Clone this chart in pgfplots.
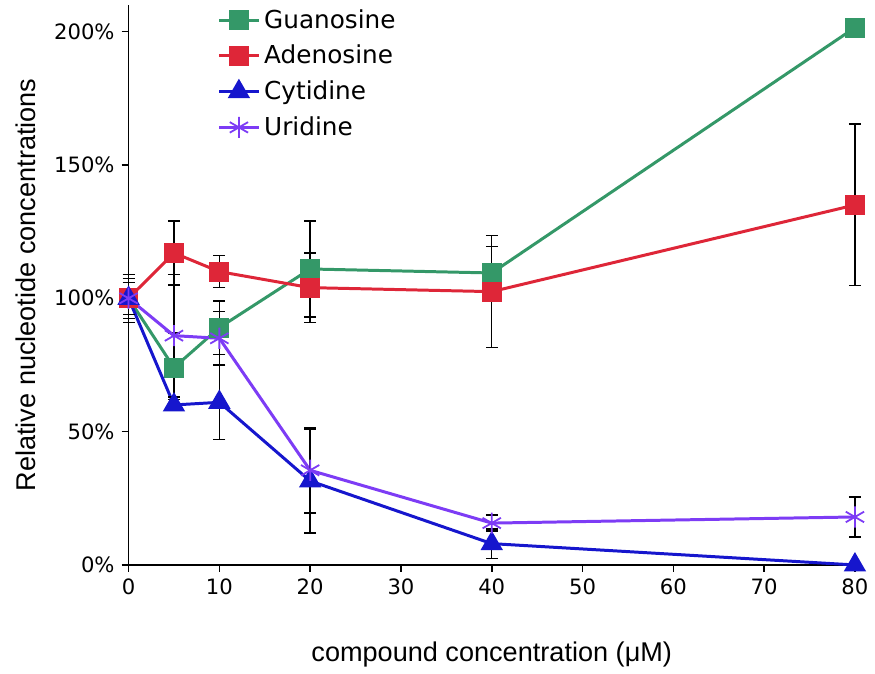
\documentclass[border=0pt]{standalone}
\usepackage{fontspec}
\setmainfont{DejaVu Sans}
\newfontfamily\labfont{Liberation Sans}
\usepackage{pgfplots}
\pgfplotsset{compat=1.18}

\definecolor{guaC}{RGB}{52,152,104}
\definecolor{adeC}{RGB}{222,38,56}
\definecolor{cytC}{RGB}{22,22,205}
\definecolor{uriC}{RGB}{125,60,245}

\begin{document}
\begin{tikzpicture}
\begin{axis}[
    scale only axis,
    width=364.5pt, height=281pt,
    xmin=0, xmax=80, ymin=0, ymax=210,
    axis lines*=left,
    axis line style={line width=0.8pt},
    tick style={black, line width=0.8pt},
    tick align=outside,
    major tick length=3.5pt,
    xtick={0,10,...,80},
    ytick={0,50,100,150,200},
    yticklabels={0\%,50\%,100\%,150\%,200\%},
    /pgf/number format/assume math mode=true,
    ticklabel style={font=\fontsize{10.6pt}{12pt}\selectfont},
    xlabel={compound concentration (μM)},
    ylabel={Relative nucleotide concentrations},
    label style={font=\labfont\fontsize{13.6pt}{15pt}\selectfont},
    x label style={at={(axis description cs:0.5,-0.16)}, anchor=center},
    y label style={at={(axis description cs:-0.142,0.5)}, anchor=center, rotate=0},
    clip=false,
    legend style={at={(0.122,1.0)}, anchor=north west, draw=none, fill=none,
        font=\fontsize{12.4pt}{14pt}\selectfont, row sep=3pt,
        inner sep=0pt},
    legend cell align=left,
    legend image code/.code={\draw[mark repeat=2,mark phase=2]
        plot coordinates {(0cm,0cm)(0.35cm,0cm)(0.7cm,0cm)};},
    every axis plot/.append style={line width=1.5pt},
    error bars/error bar style={black, line width=0.7pt},
    error bars/error mark options={black, rotate=90, mark size=3pt, line width=0.7pt},
]
% fix the frame to the reference's proportions
\path (rel axis cs:-0.177,-0.1833) rectangle (rel axis cs:1.0233,1.0089);

\addplot[color=guaC, mark=square*, mark size=4.2pt, mark options={solid},
    error bars/.cd, y dir=both, y explicit] coordinates {
    (0,100) +- (0,9)
    (5,74) +- (0,13)
    (10,89) +- (0,10)
    (20,111) +- (0,18)
    (40,109.5) +- (0,10)
    (80,201.5) +- (0,3)
};
\addlegendentry{Guanosine}

\addplot[color=adeC, mark=square*, mark size=4.2pt, mark options={solid},
    error bars/.cd, y dir=both, y explicit] coordinates {
    (0,100) +- (0,7.5)
    (5,117) +- (0,12)
    (10,110) +- (0,6)
    (20,104) +- (0,13)
    (40,102.5) +- (0,21)
    (80,135) +- (0,30.3)
};
\addlegendentry{Adenosine}

\addplot[color=cytC, mark=triangle*, mark size=5pt, mark options={solid},
    error bars/.cd, y dir=both, y explicit] coordinates {
    (0,100) +- (0,6)
    (5,60) +- (0,2)
    (10,61) +- (0,14)
    (20,31.5) +- (0,19.5)
    (40,8) +- (0,5.5)
    (80,0) +- (0,0)
};
\addlegendentry{Cytidine}

\addplot[color=uriC, mark=asterisk, mark size=5.3pt, mark options={solid, line width=0.9pt},
    error bars/.cd, y dir=both, y explicit] coordinates {
    (0,100) +- (0,0)
    (5,86) +- (0,23)
    (10,85) +- (0,10)
    (20,35.5) +- (0,16)
    (40,15.7) +- (0,3)
    (80,18) +- (0,7.5)
};
\addlegendentry{Uridine}

\end{axis}
\end{tikzpicture}
\end{document}
